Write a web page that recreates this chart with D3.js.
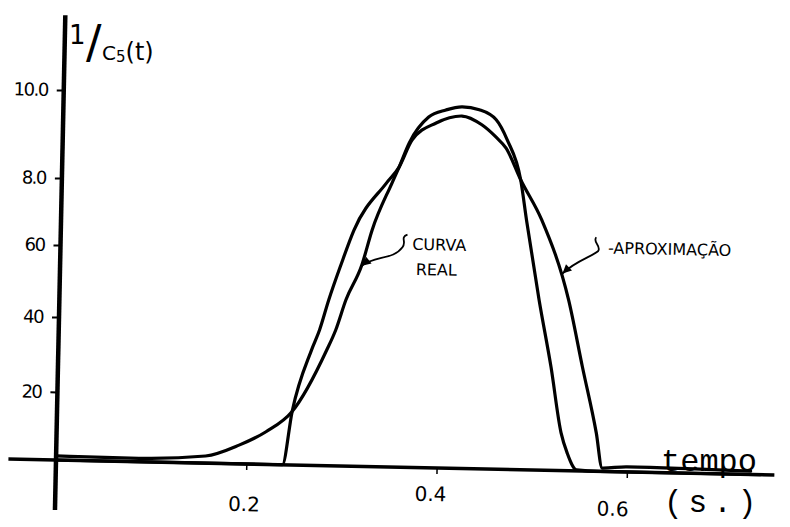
<!DOCTYPE html>
<html>
<head>
<meta charset="utf-8">
<script src="https://cdn.jsdelivr.net/npm/d3@7"></script>
<style>
  body { margin: 0; background: #fff; }
  svg { display: block; }
</style>
</head>
<body>
<svg id="chart" width="790" height="527"></svg>
<script>
// curva real (tempo em s, valor)
const realT = [0, 0.087, 0.157, 0.192, 0.220, 0.247, 0.282, 0.291, 0.301, 0.317, 0.327, 0.347, 0.354, 0.364, 0.384, 0.402, 0.419, 0.437, 0.455, 0.467, 0.482, 0.489, 0.504, 0.518, 0.530, 0.537, 0.547, 0.571, 0.74];
const realV = [1.2, 1.0, 2.1, 5.5, 9.6, 15.7, 32.7, 38.1, 46.4, 56.2, 66.4, 80.5, 84.1, 89.6, 95.6, 97.3, 98.1, 97.5, 95.3, 90.8, 81.8, 70.4, 47.5, 29.4, 11.1, 5.1, 0.3, 0, 0];

// aproximacao
const aproxT = [0, 0.238, 0.247, 0.266, 0.274, 0.283, 0.295, 0.308, 0.341, 0.354, 0.367, 0.392, 0.419, 0.440, 0.455, 0.466, 0.482, 0.505, 0.535, 0.551, 0.567, 0.574, 0.60, 0.73];
const aproxV = [0, 0, 15.7, 32.6, 38.0, 46.3, 56.1, 66.3, 80.4, 84.1, 90.3, 94.3, 96.0, 94.1, 91.4, 88.9, 81.8, 70.5, 47.7, 29.6, 11.3, 1.0, 1.5, 1.0];

const xTicks = [0.2, 0.4, 0.6];
const xTickLabels = ['0.2', '0.4', '0.6'];
const yTicks = [20, 40, 60, 80, 100];
const yTickLabels = ['20', '40', '60', '8.0', '10.0'];

// axis extents (data units), hand drawn past the data
const xExtent = [-0.05, 0.755];
const yExtent = [-14.7, 117];

const hand = 'DejaVu Sans, sans-serif';
const mono = 'Liberation Mono, Courier New, monospace';

const svg = d3.select('#chart');

// the scan is slightly rotated, so the plot lives in a rotated group
const g = svg.append('g')
  .attr('transform', 'translate(56,460) rotate(1.2)');

const x = d3.scaleLinear().domain([0, 0.6]).range([0, 571]);
// hand-spaced ticks: piecewise scale
const y = d3.scaleLinear().domain([0, 20, 40, 60, 80, 100]).range([0, -68, -143, -215, -282, -370]);

// axes lines
g.append('line')
  .attr('x1', x(xExtent[0])).attr('x2', x(xExtent[1]))
  .attr('y1', y(0)).attr('y2', y(0))
  .attr('stroke', '#000').attr('stroke-width', 3.5);
g.append('line')
  .attr('x1', x(0)).attr('x2', x(0))
  .attr('y1', y(yExtent[0])).attr('y2', y(yExtent[1]))
  .attr('stroke', '#000').attr('stroke-width', 4.5);

const yAxis = g.append('g')
  .call(d3.axisLeft(y).tickValues(yTicks).tickSize(7).tickPadding(9)
    .tickFormat((d, i) => yTickLabels[i]));
yAxis.select('.domain').remove();
yAxis.selectAll('line').attr('stroke', '#000').attr('stroke-width', 2);
yAxis.selectAll('text')
  .style('font-family', hand).style('font-size', '18px')
  .style('letter-spacing', '-1.5px').attr('fill', '#000');

const xAxis = g.append('g')
  .call(d3.axisBottom(x).tickValues(xTicks).tickSize(6).tickPadding(27)
    .tickFormat((d, i) => xTickLabels[i]));
xAxis.select('.domain').remove();
xAxis.selectAll('line').attr('stroke', '#000').attr('stroke-width', 1.5);
// hand-written labels sit a little off their ticks
xAxis.selectAll('text')
  .style('font-family', hand).style('font-size', '20px').attr('fill', '#000')
  .attr('dx', d => d === 0.2 ? -2 : d === 0.4 ? -6 : -14)
  .attr('y', d => d === 0.4 ? 19 : d === 0.6 ? 30 : 33);

// curves
const line = d3.line()
  .x(d => x(d[0]))
  .y(d => y(d[1]))
  .curve(d3.curveMonotoneX);

const realData = realT.map((t, i) => [t, realV[i]]);
const aproxData = aproxT.map((t, i) => [t, aproxV[i]]);

g.append('path')
  .datum(aproxData)
  .attr('d', line)
  .attr('fill', 'none').attr('stroke', '#000').attr('stroke-width', 3.2)
  .attr('stroke-linejoin', 'round').attr('stroke-linecap', 'round');
g.append('path')
  .datum(realData)
  .attr('d', line)
  .attr('fill', 'none').attr('stroke', '#000').attr('stroke-width', 3.2)
  .attr('stroke-linejoin', 'round').attr('stroke-linecap', 'round');

// annotations with squiggly arrows
const notes = [
  { t: 0.317, v: 56, hook: [[12, -10], [32, -7], [40, -19], [45, -25], [37, -29], [45, -32]],
    lines: [{ s: 'CURVA', dx: 50, dy: -17 }, { s: 'REAL', dx: 54, dy: 8 }] },
  { t: 0.528, v: 55, hook: [[13, -13], [28, -17], [35, -23], [39, -28], [29, -32], [33, -37]],
    lines: [{ s: '-APROXIMAÇÃO', dx: 45, dy: -21 }] }
];

notes.forEach(n => {
  const tx = x(n.t), ty = y(n.v);
  const h = n.hook;
  const p = d3.path();
  p.moveTo(tx, ty);
  p.bezierCurveTo(tx + h[0][0], ty + h[0][1], tx + h[1][0], ty + h[1][1], tx + h[2][0], ty + h[2][1]);
  p.bezierCurveTo(tx + h[3][0], ty + h[3][1], tx + h[4][0], ty + h[4][1], tx + h[5][0], ty + h[5][1]);
  g.append('path').attr('d', p.toString())
    .attr('fill', 'none').attr('stroke', '#000').attr('stroke-width', 1.8);
  // arrow head
  const ang = Math.atan2(h[0][1], h[0][0]);
  const a1 = ang + 0.45, a2 = ang - 0.45, L = 10;
  g.append('path')
    .attr('d', `M${tx},${ty}L${tx + L * Math.cos(a1)},${ty + L * Math.sin(a1)}L${tx + L * Math.cos(a2)},${ty + L * Math.sin(a2)}Z`)
    .attr('fill', '#000');
  n.lines.forEach(l => {
    g.append('text')
      .attr('x', tx + l.dx).attr('y', ty + l.dy)
      .style('font-family', hand).style('font-size', '16px')
      .attr('fill', '#000')
      .text(l.s);
  });
});

// y label 1/C5(t)
svg.append('text')
  .attr('x', 69).attr('y', 44)
  .style('font-family', hand).style('font-size', '26px').attr('fill', '#000')
  .text('1');
svg.append('text')
  .attr('x', 86).attr('y', 58)
  .style('font-family', hand).style('font-size', '46px').attr('fill', '#000')
  .text('/');
const yl = svg.append('text')
  .attr('x', 102).attr('y', 60)
  .style('font-family', hand).attr('fill', '#000');
yl.append('tspan').style('font-size', '20px').text('C');
yl.append('tspan').attr('dy', 2).style('font-size', '15px').text('5');
yl.append('tspan').attr('dy', -2).style('font-size', '24px').text('(t)');

// typewritten x label
svg.append('text')
  .attr('x', 661).attr('y', 471)
  .style('font-family', mono).style('font-size', '32px')
  .attr('fill', '#000').text('tempo');
svg.append('text')
  .attr('x', 664).attr('y', 512)
  .style('font-family', mono).style('font-size', '31px')
  .style('letter-spacing', '6px')
  .attr('fill', '#000').text('(s.)');
</script>
</body>
</html>
